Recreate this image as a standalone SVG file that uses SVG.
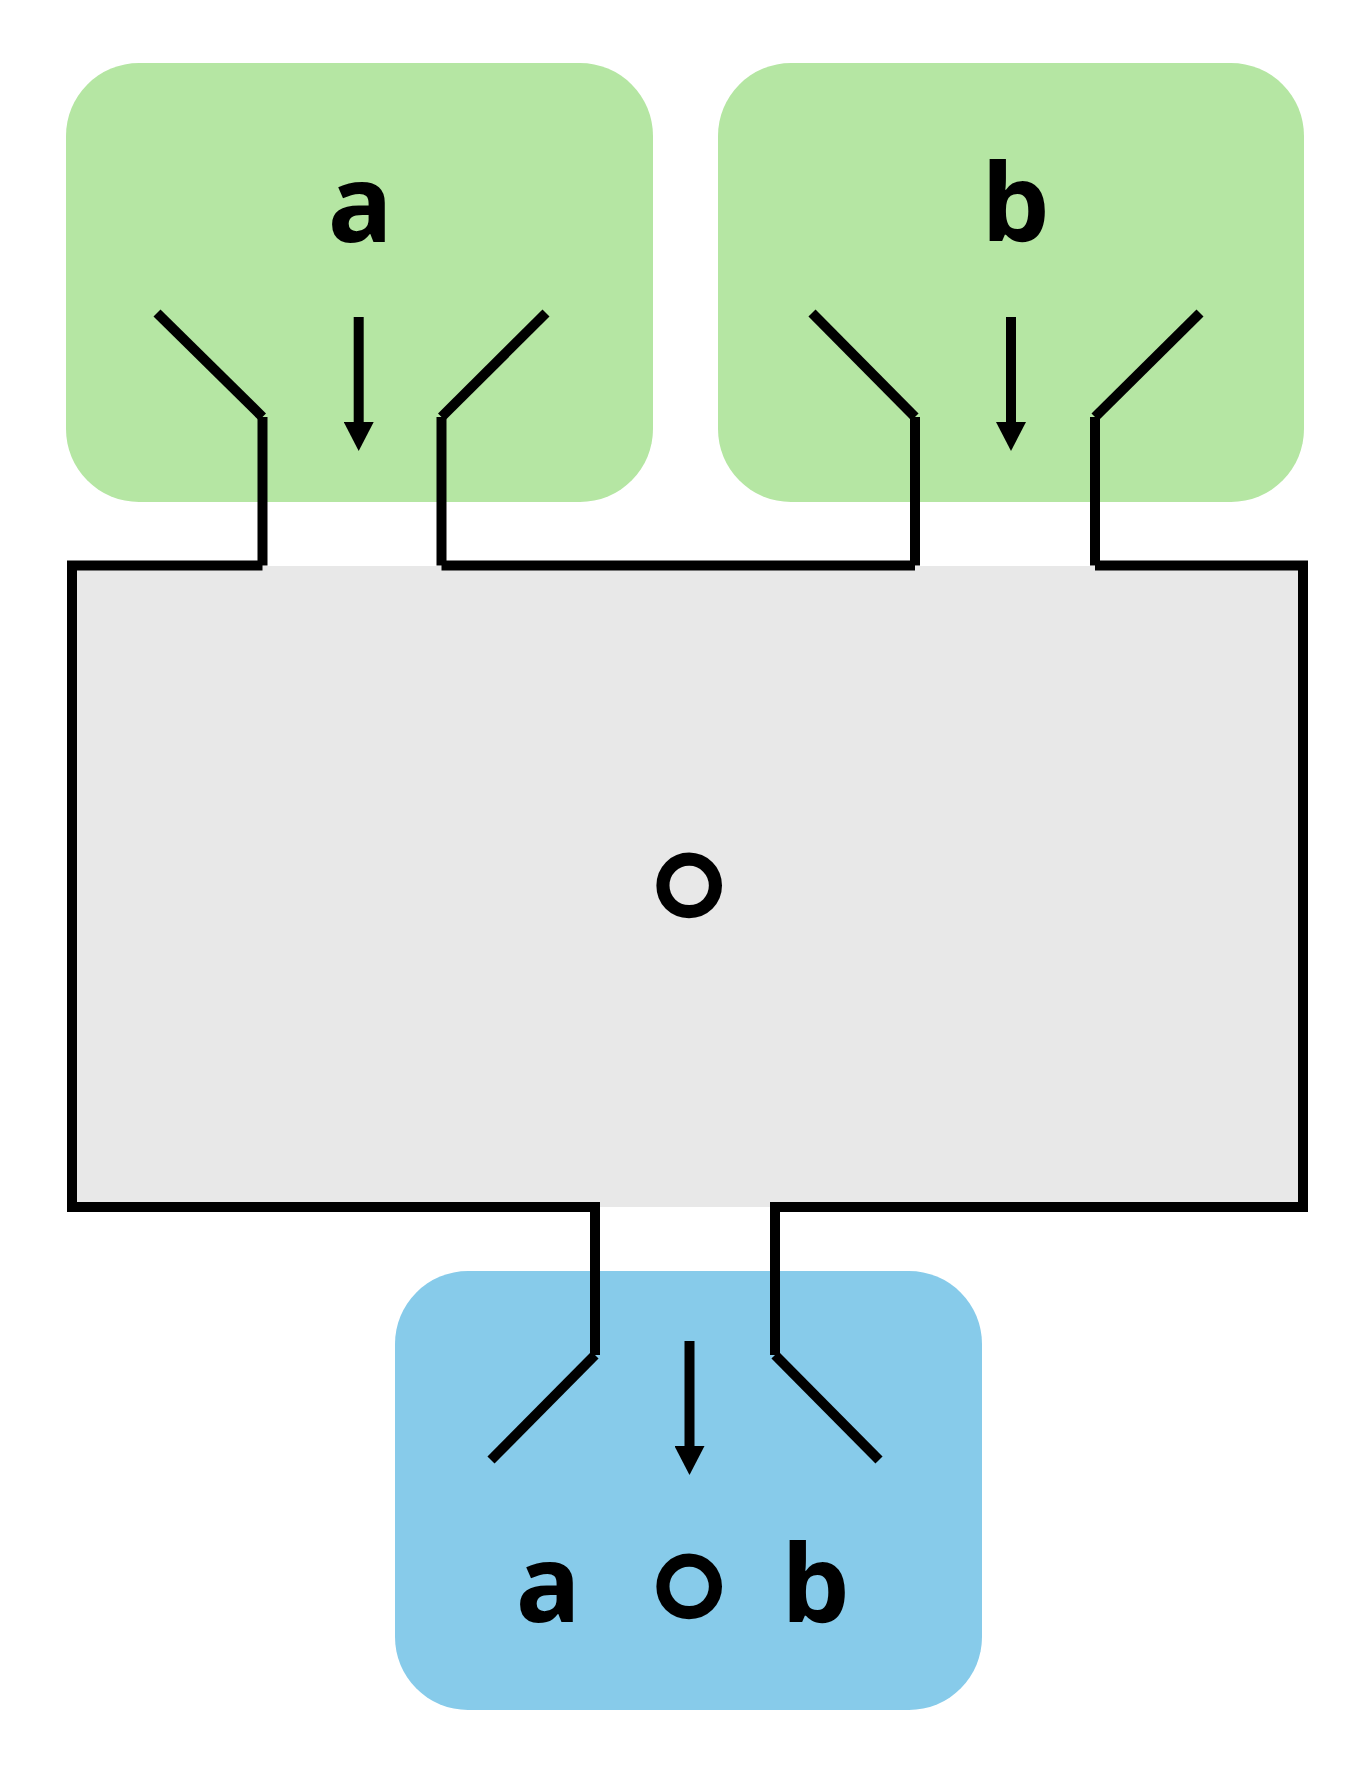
<svg xmlns="http://www.w3.org/2000/svg" width="1354" height="1767" viewBox="0 0 1354 1767">
<style>
.in{fill:#b5e6a3}
.out{fill:#87cbea}
.ln{stroke:#000;stroke-width:10;fill:none;stroke-linecap:butt}
.lbl{font-family:"Noto Sans","DejaVu Sans",sans-serif;font-weight:700;font-size:108px;fill:#000;text-anchor:middle}
.op{font-family:"DejaVu Sans",sans-serif;font-weight:400;font-size:212px;fill:#000;text-anchor:middle}
</style>
<defs>
<marker id="ah" viewBox="0 0 29 30" markerWidth="29" markerHeight="30" refX="6" refY="15" orient="auto" markerUnits="userSpaceOnUse">
<path d="M0,0 L29,15 L0,30 z" fill="#000"/>
</marker>
</defs>
<rect width="1354" height="1767" fill="#fff"/>
<g id="input-a">
<rect class="in" x="66" y="63" width="587" height="439" rx="73"/>
<text class="lbl" x="360" y="242">a</text>
</g>
<g id="input-b">
<rect class="in" x="718" y="63" width="586" height="439" rx="73"/>
<text class="lbl" x="1016" y="241">b</text>
</g>
<g id="compose">
<rect x="72" y="566" width="1231" height="641" fill="#e8e8e8"/>
<text class="op" x="689" y="952">∘</text>
</g>
<g id="output">
<rect class="out" x="395" y="1271" width="587" height="439" rx="73"/>
<text class="lbl" y="1622"><tspan x="548">a</tspan><tspan class="op" x="689" y="1653">∘</tspan><tspan x="816" y="1622">b</tspan></text>
</g>
<g id="connectors">
<path class="ln" d="M157,313 L262.5,417"/>
<path class="ln" d="M262.5,417 V565.5"/>
<path class="ln" d="M546,313 L441.5,417"/>
<path class="ln" d="M441.5,417 V565.5"/>
<path class="ln" d="M812,313 L915,417"/>
<path class="ln" d="M915,417 V565.5"/>
<path class="ln" d="M1200,313 L1095,417"/>
<path class="ln" d="M1095,417 V565.5"/>
<path class="ln" d="M262.5,565.5 H72 V1207 H595 V1355" stroke-linejoin="miter"/>
<path class="ln" d="M441.5,565.5 H915"/>
<path class="ln" d="M1095,565.5 H1303 V1207 H775 V1355" stroke-linejoin="miter"/>
<path class="ln" d="M595,1355 L491,1460"/>
<path class="ln" d="M775,1355 L879,1460"/>
<path class="ln" d="M358.7,317 V428" marker-end="url(#ah)"/>
<path class="ln" d="M1011,317 V428" marker-end="url(#ah)"/>
<path class="ln" d="M689.5,1341 V1452" marker-end="url(#ah)"/>
</g>
</svg>
